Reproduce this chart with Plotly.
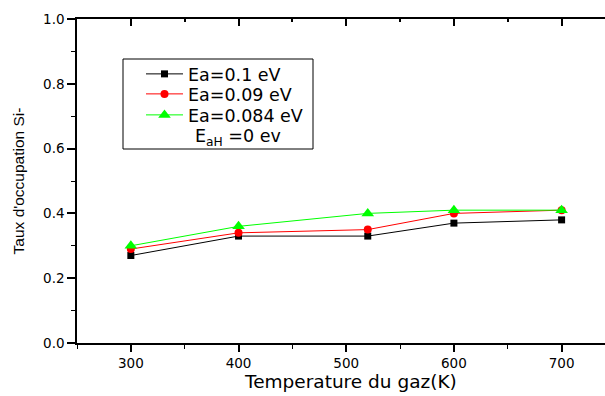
import plotly.graph_objects as go

temps = [300, 400, 520, 600, 700]
ea_01 = [0.27, 0.33, 0.33, 0.37, 0.38]
ea_009 = [0.29, 0.34, 0.35, 0.40, 0.41]
ea_0084 = [0.30, 0.36, 0.40, 0.41, 0.41]
names = ["Ea=0.1 eV", "Ea=0.09 eV", "Ea=0.084 eV"]
x_ticks = [300, 400, 500, 600, 700]
y_ticks = [0.0, 0.2, 0.4, 0.6, 0.8, 1.0]

WIDE = "DejaVu Sans, Verdana, sans-serif"
ARIAL = "Liberation Sans, Arial, sans-serif"

L, R, T, B = 77, 605, 19, 343
W, H = R - L, B - T


def px(xp):
    return (xp - L) / W


def py(yp):
    return 1 - (yp - T) / H


fig = go.Figure()
fig.add_trace(go.Scatter(x=temps, y=ea_01, name=names[0], mode="lines+markers",
                         line=dict(color="black", width=1),
                         marker=dict(symbol="square", size=7, color="black"),
                         legend="legend"))
fig.add_trace(go.Scatter(x=temps, y=ea_009, name=names[1], mode="lines+markers",
                         line=dict(color="#ff0000", width=1),
                         marker=dict(symbol="circle", size=8, color="#ff0000"),
                         legend="legend2"))
fig.add_trace(go.Scatter(x=temps, y=ea_0084, name=names[2], mode="lines+markers",
                         line=dict(color="#00ff00", width=1),
                         marker=dict(symbol="triangle-up", size=11, color="#00ff00"),
                         legend="legend3"))
# dummy trace on top axis to activate it
fig.add_trace(go.Scatter(x=[None], y=[None], xaxis="x2", showlegend=False, hoverinfo="skip"))

leg_common = dict(xanchor="left", yanchor="middle", bgcolor="rgba(0,0,0,0)", borderwidth=0,
                  font=dict(size=17.5, family=WIDE), itemwidth=37)

fig.update_layout(
    width=605, height=396,
    margin=dict(l=L, r=605 - R, t=T, b=396 - B),
    paper_bgcolor="white", plot_bgcolor="white",
    font=dict(family=WIDE, color="black", size=13.5),
    xaxis=dict(range=[250, 740.3], tickvals=x_ticks,
               ticks="outside", ticklen=7, tickwidth=1.5, tickcolor="black",
               minor=dict(tickvals=[250, 350, 450, 550, 650], ticks="outside", ticklen=4,
                          tickcolor="black", tickwidth=1),
               showline=True, linecolor="black", linewidth=1.5, showgrid=False, zeroline=False,
               tickfont=dict(size=13.5, family=WIDE)),
    xaxis2=dict(range=[250, 740.3], overlaying="x", side="top", tickvals=x_ticks,
                ticks="inside", ticklen=7, tickwidth=1.5, tickcolor="black", showticklabels=False,
                minor=dict(tickvals=[350, 450, 550, 650], ticks="inside", ticklen=3,
                           tickcolor="black"),
                showline=True, linecolor="black", linewidth=1.5, showgrid=False, zeroline=False),
    yaxis=dict(range=[0, 1.0], tickvals=y_ticks, tickformat=".1f",
               ticks="outside", ticklen=8, tickwidth=1.5, tickcolor="black",
               minor=dict(tickvals=[0.1, 0.3, 0.5, 0.7, 0.9], ticks="outside", ticklen=4,
                          tickcolor="black", tickwidth=1),
               showline=True, linecolor="black", linewidth=1.5, showgrid=False, zeroline=False,
               tickfont=dict(size=13.5, family=WIDE),
               title=dict(text="Taux d'occupation Si-", font=dict(size=15.5, family=ARIAL),
                          standoff=15)),
    legend=dict(x=px(141), y=py(74), **leg_common),
    legend2=dict(x=px(141), y=py(94), **leg_common),
    legend3=dict(x=px(141), y=py(115), **leg_common),
    showlegend=True,
)

# x-axis title (centered as in the original, slightly right of the visible area centre)
fig.add_annotation(xref="paper", yref="paper", x=px(350), y=py(381),
                   xanchor="center", yanchor="middle", showarrow=False,
                   text="Temperature du gaz(K)", font=dict(size=18.5, family=WIDE))

# legend frame and the extra legend line
fig.add_shape(type="rect", xref="paper", yref="paper",
              x0=px(123), x1=px(313), y0=py(149), y1=py(59),
              line=dict(color="black", width=1), fillcolor="rgba(0,0,0,0)")
fig.add_annotation(xref="paper", yref="paper", x=px(193), y=py(137),
                   xanchor="left", yanchor="middle", showarrow=False,
                   text="E<sub>aH</sub> =0 ev", font=dict(size=17.5, family=WIDE))

fig.write_html("out.html")
